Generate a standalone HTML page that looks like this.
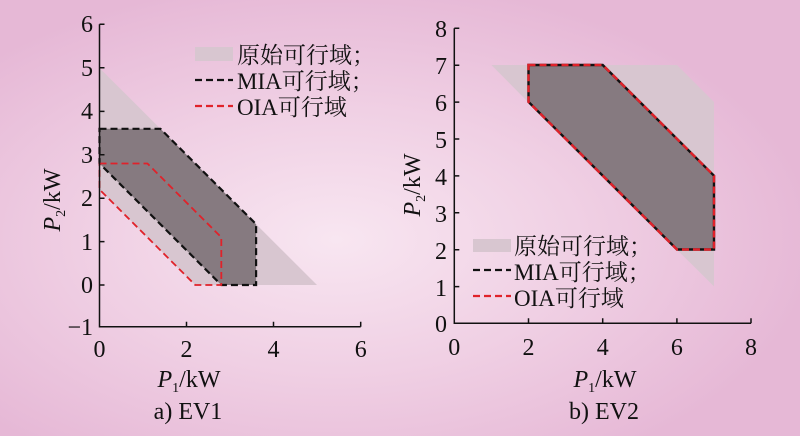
<!DOCTYPE html>
<html><head><meta charset="utf-8"><style>
html,body{margin:0;padding:0}
body{width:800px;height:436px;overflow:hidden;background:#e9bedb}
svg{display:block}
text{font-family:"Liberation Serif","Noto Serif CJK SC",serif;fill:#111}
</style></head><body>
<svg width="800" height="436" viewBox="0 0 800 436">
<defs>
<radialGradient id="bg" cx="0.42" cy="0.55" r="0.6">
<stop offset="0" stop-color="#f8e6f1"/>
<stop offset="0.5" stop-color="#f0d0e4"/>
<stop offset="1" stop-color="#e6b8d6"/>
</radialGradient>
</defs>
<rect width="800" height="436" fill="url(#bg)"/>
<g>
<polygon points="99.5,68 317,285 195.2,285 99.5,189.5" fill="#d8c6d0"/>
<polygon points="99.5,128.8 160.4,128.8 256.1,224.2 256.1,285 221.3,285 99.5,163.5" fill="#867a80"/>
<polygon points="99.5,128.8 160.4,128.8 256.1,224.2 256.1,285 221.3,285 99.5,163.5" fill="none" stroke="#111" stroke-width="2.2" stroke-dasharray="7,4"/>
<polygon points="99.5,163.5 147.4,163.5 221.3,237.3 221.3,285 195.2,285 99.5,189.5" fill="none" stroke="#e0222a" stroke-width="1.8" stroke-dasharray="7,4"/>
<path d="M99.5,24.3V326.7H360.7 M99.5,24.3h5 M99.5,67.7h5 M99.5,111.4h5 M99.5,154.8h5 M99.5,198.2h5 M99.5,241.6h5 M99.5,285h5 M186.5,326.7v-5 M273.5,326.7v-5 M360.7,326.7v-5" stroke="#111" stroke-width="1.5" fill="none"/>
<g font-size="24" text-anchor="end">
<text x="93" y="32">6</text><text x="93" y="76">5</text><text x="93" y="119">4</text><text x="93" y="163">3</text><text x="93" y="206">2</text><text x="93" y="250">1</text><text x="93" y="293">0</text><text x="93" y="335">−1</text>
</g>
<g font-size="24" text-anchor="middle">
<text x="99.5" y="357">0</text><text x="186.5" y="357">2</text><text x="273.5" y="357">4</text><text x="360.7" y="357">6</text>
<text x="189" y="387"><tspan font-style="italic">P</tspan><tspan font-size="14" dy="5">1</tspan><tspan dy="-5">/kW</tspan></text>
<text x="188" y="419">a) EV1</text>
</g>
<text transform="translate(60,200) rotate(-90)" font-size="24" text-anchor="middle"><tspan font-style="italic">P</tspan><tspan font-size="14" dy="5">2</tspan><tspan dy="-5">/kW</tspan></text>
<rect x="195" y="47" width="38" height="14" fill="#d8c6d0"/>
<path d="M195,80h38" stroke="#111" stroke-width="2.2" stroke-dasharray="7,4"/>
<path d="M195,106h38" stroke="#e0222a" stroke-width="2.2" stroke-dasharray="7,4"/>
<g font-size="23"><text x="237" y="63">原始可行域；</text><text x="237" y="89">MIA可行域；</text><text x="237" y="115">OIA可行域</text></g>
</g>
<g>
<polygon points="491.4,65 677,65 714,102 714,286.4 528,102" fill="#d8c6d0"/>
<polygon points="528.5,65 602.7,65 714,175.7 714,249.5 677,249.5 528.5,101.9" fill="#867a80"/>
<polygon points="528.5,65 602.7,65 714,175.7 714,249.5 677,249.5 528.5,101.9" fill="none" stroke="#111" stroke-width="2.4"/>
<polygon points="528.5,65 602.7,65 714,175.7 714,249.5 677,249.5 528.5,101.9" fill="none" stroke="#e0222a" stroke-width="2.4" stroke-dasharray="7,4"/>
<path d="M454.3,28.3V323.3H751 M454.3,28.3h5 M454.3,65.2h5 M454.3,102.1h5 M454.3,139h5 M454.3,175.9h5 M454.3,212.8h5 M454.3,249.7h5 M454.3,286.6h5 M528.5,323.3v-5 M602.7,323.3v-5 M676.9,323.3v-5 M751,323.3v-5" stroke="#111" stroke-width="1.5" fill="none"/>
<g font-size="24" text-anchor="end">
<text x="447" y="37">8</text><text x="447" y="74">7</text><text x="447" y="111">6</text><text x="447" y="148">5</text><text x="447" y="185">4</text><text x="447" y="222">3</text><text x="447" y="259">2</text><text x="447" y="296">1</text><text x="447" y="332">0</text>
</g>
<g font-size="24" text-anchor="middle">
<text x="454.3" y="355">0</text><text x="528.5" y="355">2</text><text x="602.7" y="355">4</text><text x="676.9" y="355">6</text><text x="751" y="355">8</text>
<text x="605" y="387"><tspan font-style="italic">P</tspan><tspan font-size="14" dy="5">1</tspan><tspan dy="-5">/kW</tspan></text>
<text x="604" y="419">b) EV2</text>
</g>
<text transform="translate(420,185) rotate(-90)" font-size="24" text-anchor="middle"><tspan font-style="italic">P</tspan><tspan font-size="14" dy="5">2</tspan><tspan dy="-5">/kW</tspan></text>
<rect x="473" y="239" width="38" height="13" fill="#d8c6d0"/>
<path d="M473,270h38" stroke="#111" stroke-width="2.2" stroke-dasharray="7,4"/>
<path d="M473,296h38" stroke="#e0222a" stroke-width="2.2" stroke-dasharray="7,4"/>
<g font-size="23"><text x="514" y="254">原始可行域；</text><text x="514" y="280">MIA可行域；</text><text x="514" y="306">OIA可行域</text></g>
</g>
</svg>
</body></html>
